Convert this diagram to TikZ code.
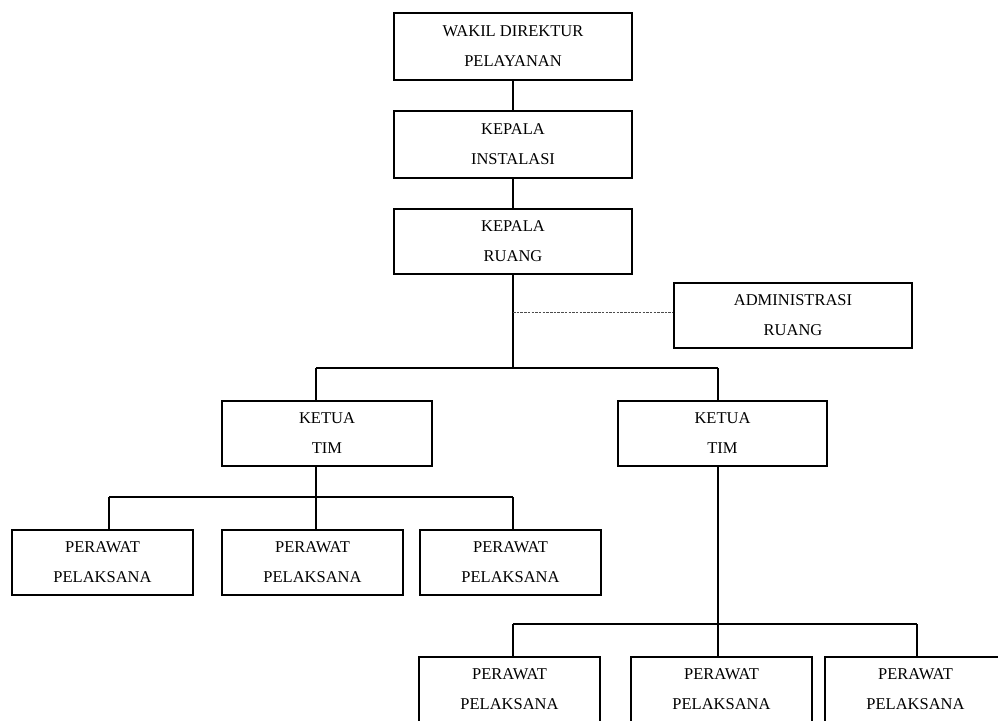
\documentclass[tikz,border=0pt]{standalone}
\usepackage{fontspec}
\setmainfont{Liberation Serif}
\begin{document}
\begin{tikzpicture}[x=1pt,y=-1pt,
  orgbox/.style={draw=black,line width=1.3pt,rectangle,inner sep=0pt,align=center,
    font=\fontsize{16.5}{30}\selectfont,text=black},
  wide/.style={minimum width=238pt,minimum height=67pt},
  mid/.style={minimum width=209pt,minimum height=65pt},
  small/.style={minimum width=181pt,minimum height=65pt},
  link/.style={line width=1.3pt,draw=black},
  dashlink/.style={line width=0.8pt,draw=black!70,dash pattern=on 2.5pt off 1.2pt}]
\useasboundingbox (0,0) rectangle (998,720);
\clip (0,0) rectangle (998,720);
\node[orgbox,wide] (wakil) at (513,46.5) {WAKIL DIREKTUR\\PELAYANAN};
\node[orgbox,wide] (inst) at (513,144.5) {KEPALA\\INSTALASI};
\node[orgbox,wide,minimum height=65pt] (ruang) at (513,241.5) {KEPALA\\RUANG};
\node[orgbox,wide,minimum height=65pt] (admin) at (793,315.5) {ADMINISTRASI\\RUANG};
\node[orgbox,mid,minimum width=210pt] (ketuaA) at (327,433.5) {KETUA\\TIM};
\node[orgbox,mid] (ketuaB) at (722.5,433.5) {KETUA\\TIM};
\node[orgbox,small] (pA) at (102.5,562.5) {PERAWAT\\PELAKSANA};
\node[orgbox,small] (pB) at (312.5,562.5) {PERAWAT\\PELAKSANA};
\node[orgbox,small] (pC) at (510.5,562.5) {PERAWAT\\PELAKSANA};
\node[orgbox,small] (pD) at (509.5,689.5) {PERAWAT\\PELAKSANA};
\node[orgbox,small] (pE) at (721.5,689.5) {PERAWAT\\PELAKSANA};
\node[orgbox,small] (pF) at (915.5,689.5) {PERAWAT\\PELAKSANA};
% bus coordinates
\coordinate (spine) at (513,0);
\coordinate (adm) at (513,312);
\coordinate (busT) at (513,368);
\coordinate (busTL) at (316,368);
\coordinate (busTR) at (718,368);
\coordinate (busA) at (316,497);
\coordinate (busAL) at (109,497);
\coordinate (busAR) at (513,497);
\coordinate (busB) at (718,624);
\coordinate (busBL) at (513,624);
\coordinate (busBR) at (917,624);
% connectors
\draw[link] (spine |- wakil.south) -- (spine |- inst.north);
\draw[link] (spine |- inst.south) -- (spine |- ruang.north);
\draw[link] (spine |- ruang.south) -- (busT);
\draw[dashlink] (adm) -- (admin.west |- adm);
\draw[link] (busTL) -- (busTR);
\draw[link] (busTL) -- (busTL |- ketuaA.north);
\draw[link] (busTR) -- (busTR |- ketuaB.north);
\draw[link] (busA |- ketuaA.south) -- (busA);
\draw[link] (busAL) -- (busAR);
\draw[link] (busAL) -- (busAL |- pA.north);
\draw[link] (busA) -- (busA |- pB.north);
\draw[link] (busAR) -- (busAR |- pC.north);
\draw[link] (busB |- ketuaB.south) -- (busB);
\draw[link] (busBL) -- (busBR);
\draw[link] (busBL) -- (busBL |- pD.north);
\draw[link] (busB) -- (busB |- pE.north);
\draw[link] (busBR) -- (busBR |- pF.north);
\end{tikzpicture}
\end{document}
